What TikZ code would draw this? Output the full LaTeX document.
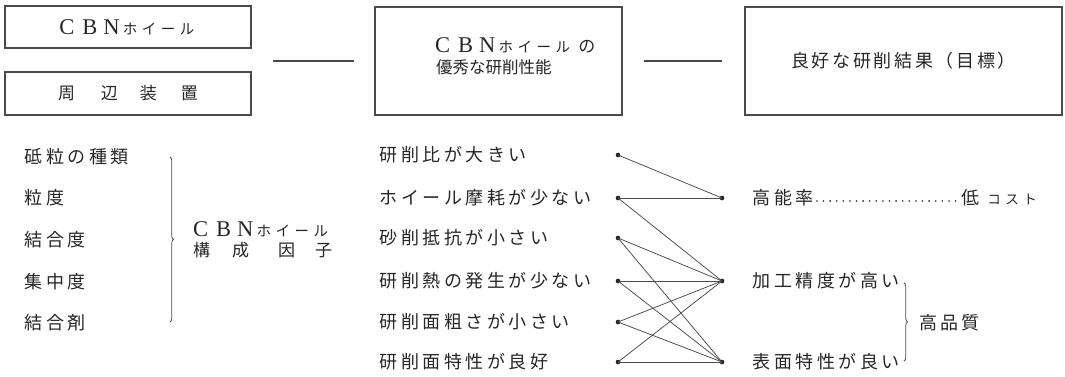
\documentclass[tikz,border=0pt]{standalone}
\usepackage{fontspec}
\setmainfont{Noto Sans CJK JP}
\newfontfamily\jpn{Noto Sans CJK JP}
\newfontfamily\lat{Liberation Serif}
\usetikzlibrary{decorations.pathreplacing}
\definecolor{ink}{HTML}{262626}
\definecolor{wire}{HTML}{4A4A4A}
\ExplSyntaxOn
\NewDocumentCommand\pitched{mm}{\tl_map_inline:nn {#2}{\makebox[#1][c]{##1}}}
\ExplSyntaxOff
\newcommand{\cbnword}{{\lat\fontsize{22.5}{22.5}\selectfont C\hspace{8pt}B\hspace{6pt}N}\hspace{1pt}{\jpn\fontsize{14.5}{14.5}\selectfont\pitched{19pt}{ホイール}}}
\tikzset{
  box/.style={draw=wire, line width=1.2pt, rectangle, inner sep=0pt},
  lbl/.style={text=ink, inner sep=0pt, anchor=west, font=\jpn\fontsize{18}{18}\selectfont},
  pdot/.style={circle, fill=ink, draw=ink, inner sep=0pt, minimum size=4.2pt},
  wirel/.style={draw=wire, line width=0.75pt},
  link/.style={draw=wire, line width=1.1pt}
}
\begin{document}
\begin{tikzpicture}[x=1pt,y=-1pt]
\useasboundingbox (0,0) rectangle (1065,376);
% boxes
\node[box, minimum width=246pt, minimum height=42pt, text=ink] (b1) at (128,27) {\cbnword};
\node[box, minimum width=246pt, minimum height=43pt, text=ink, font=\jpn\fontsize{17}{17}\selectfont] (b2) at (128,93.5) {周\hspace{26pt}辺\hspace{22pt}装\hspace{24pt}置};
\node[box, minimum width=247pt, minimum height=108pt] (b3) at (498.5,61) {};
\node[text=ink, inner sep=0pt, anchor=west] (b3a) at (435,45) {\cbnword{\jpn\fontsize{17}{17}\selectfont\hspace{6pt}の}};
\node[text=ink, inner sep=0pt, anchor=west, font=\jpn\fontsize{16.5}{16.5}\selectfont] (b3b) at (436,67) {優秀な研削性能};
\node[box, minimum width=317pt, minimum height=108pt, text=ink, font=\jpn\fontsize{18}{18}\selectfont] (b4) at (903.5,61) {\pitched{20.7pt}{良好な研削結果（目標）}};
% connectors between boxes
\coordinate (grp) at (251,61);
\draw[link, shorten <=22pt, shorten >=20pt] (grp) -- (b3.west);
\draw[link, shorten <=21pt, shorten >=22pt] (b3.east) -- (b4.west);
% left list
\node[lbl] (f1) at (23,157) {\pitched{21.5pt}{砥粒の種類}};
\node[lbl] (f2) at (23,198) {\pitched{21.5pt}{粒度}};
\node[lbl] (f3) at (23,240) {\pitched{21.5pt}{結合度}};
\node[lbl] (f4) at (23,282) {\pitched{21.5pt}{集中度}};
\node[lbl] (f5) at (23,323) {\pitched{21.5pt}{結合剤}};
\coordinate (bt) at (170,157);
\coordinate (bb) at (170,322);
\draw[wirel, decorate, decoration={brace, amplitude=3.5pt}] (bt) -- (bb);
\node[text=ink, inner sep=0pt, anchor=west] (cf1) at (193,229) {\cbnword};
\node[text=ink, inner sep=0pt, anchor=west, font=\jpn\fontsize{17}{17}\selectfont] (cf2) at (193,250) {構\hspace{22pt}成\hspace{29pt}因\hspace{20pt}子};
% middle list
\node[lbl] (m1) at (378,155) {\pitched{21.5pt}{研削比が大きい}};
\node[lbl] (m2) at (378,198) {\pitched{21.5pt}{ホイール摩耗が少ない}};
\node[lbl] (m3) at (378,238) {\pitched{21.5pt}{砂削抵抗が小さい}};
\node[lbl] (m4) at (378,281) {\pitched{21.5pt}{研削熱の発生が少ない}};
\node[lbl] (m5) at (378,322) {\pitched{21.5pt}{研削面粗さが小さい}};
\node[lbl] (m6) at (378,362) {\pitched{21.5pt}{研削面特性が良好}};
% dots
\node[pdot] (l1) at (618,155) {};
\node[pdot] (l2) at (618,198) {};
\node[pdot] (l3) at (618,238) {};
\node[pdot] (l4) at (618,281) {};
\node[pdot] (l5) at (618,322) {};
\node[pdot] (l6) at (618,362) {};
\node[pdot] (r1) at (722,198) {};
\node[pdot] (r2) at (722,281) {};
\node[pdot] (r3) at (722,362) {};
% links
\draw[wirel] (l1.center) -- (r1.center);
\draw[wirel] (l2.center) -- (r1.center);
\draw[wirel] (l2.center) -- (r2.center);
\draw[wirel] (l3.center) -- (r2.center);
\draw[wirel] (l3.center) -- (r3.center);
\draw[wirel] (l4.center) -- (r2.center);
\draw[wirel] (l4.center) -- (r3.center);
\draw[wirel] (l5.center) -- (r2.center);
\draw[wirel] (l5.center) -- (r3.center);
\draw[wirel] (l6.center) -- (r2.center);
\draw[wirel] (l6.center) -- (r3.center);
% right results
\node[lbl] (g1) at (751,198) {\pitched{21.5pt}{高能率}};
\node[text=ink, inner sep=0pt, anchor=west] (g1b) at (961,198) {{\jpn\fontsize{18}{18}\selectfont 低}\hspace{6pt}{\jpn\fontsize{13.5}{13.5}\selectfont\pitched{18pt}{コスト}}};
\draw[ink, line width=1.8pt, line cap=round, dash pattern=on 0pt off 6.6pt, shorten <=1pt, shorten >=4pt] ([yshift=-3pt]g1.east) -- ([yshift=-3pt]g1b.west);
\node[lbl] (g2) at (751,281) {\pitched{21.5pt}{加工精度が高い}};
\node[lbl] (g3) at (751,362) {\pitched{21.5pt}{表面特性が良い}};
\coordinate (qt) at (904,283);
\coordinate (qb) at (904,361);
\draw[wirel, decorate, decoration={brace, amplitude=3.5pt}] (qt) -- (qb);
\node[lbl] (hq) at (918,323) {\pitched{21pt}{高品質}};
\end{tikzpicture}
\end{document}
